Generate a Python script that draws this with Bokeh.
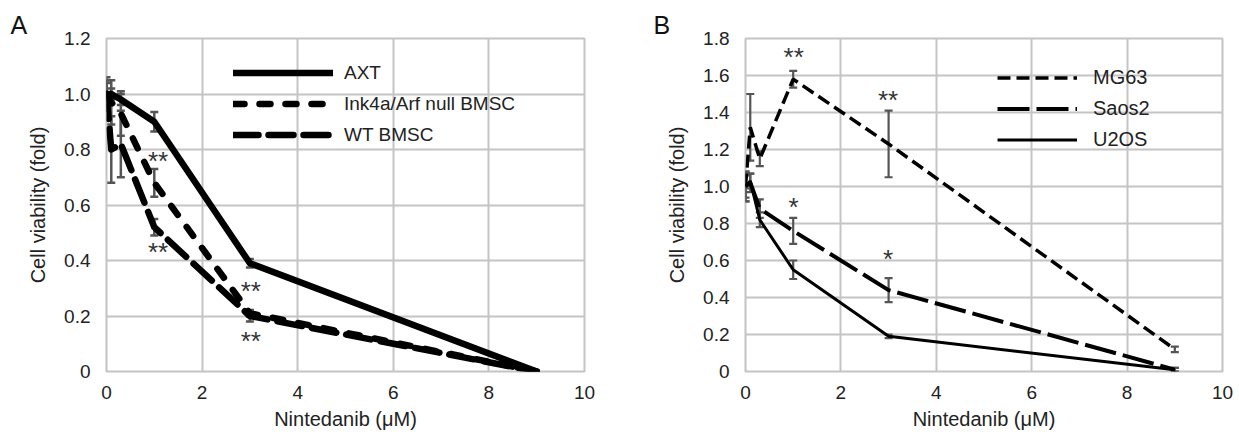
from bokeh.plotting import figure
from bokeh.layouts import row
from bokeh.models import (ColumnDataSource, Whisker, TeeHead, Legend, LegendItem,
                          FixedTicker, NumeralTickFormatter)
from bokeh.core.properties import value
from bokeh.embed import file_html
from bokeh.resources import INLINE

# ---------------- data ----------------
dose = [0, 0.1, 0.3, 1, 3, 9]

# Panel A
a_names = ["AXT", "Ink4a/Arf null BMSC", "WT BMSC"]
a_axt = [1.00, 1.00, 0.98, 0.90, 0.39, 0.00]
a_axt_err = [0.05, 0.02, 0.02, 0.035, 0.015, 0.0]
a_ink = [1.00, 0.97, 0.93, 0.68, 0.21, 0.00]
a_ink_err = [0.04, 0.08, 0.08, 0.05, 0.012, 0.0]
a_wt = [1.00, 0.80, 0.82, 0.52, 0.20, 0.00]
a_wt_err = [0.06, 0.12, 0.12, 0.03, 0.02, 0.0]
a_sig_x = [1.08, 1.08, 3.02, 3.02]
a_sig_y = [0.76, 0.43, 0.29, 0.11]
a_sig = ["**", "**", "**", "**"]

# Panel B
b_names = ["MG63", "Saos2", "U2OS"]
b_mg63 = [1.00, 1.32, 1.15, 1.58, 1.23, 0.12]
b_mg63_err = [0.08, 0.18, 0.04, 0.045, 0.18, 0.015]
b_saos = [1.00, 1.02, 0.88, 0.76, 0.44, 0.01]
b_saos_err = [0.08, 0.05, 0.05, 0.07, 0.065, 0.01]
b_u2os = [1.00, 1.03, 0.82, 0.55, 0.19, 0.01]
b_u2os_err = [0.06, 0.04, 0.04, 0.05, 0.01, 0.01]
b_sig_x = [1.01, 2.99, 1.01, 2.99]
b_sig_y = [1.70, 1.47, 0.89, 0.61]
b_sig = ["**", "**", "*", "*"]

x_ticks = [0, 2, 4, 6, 8, 10]
a_yticks = [0, 0.2, 0.4, 0.6, 0.8, 1.0, 1.2]
b_yticks = [0, 0.2, 0.4, 0.6, 0.8, 1.0, 1.2, 1.4, 1.6, 1.8]

FONT = "Liberation Sans"
GRID = "#c4c4c4"
ERR = "#555555"


def base_fig(width, height, ymax, yticks, bl, br, bt, bb, panel, title_offset):
    p = figure(width=width, height=height, x_range=(0, 10), y_range=(0, ymax),
               output_backend="svg", toolbar_location=None,
               min_border_left=bl, min_border_right=br, min_border_top=bt,
               min_border_bottom=bb, title=panel)
    p.title.text_font = FONT
    p.title.text_font_size = "25px"
    p.title.text_font_style = "normal"
    p.title.text_color = "#111111"
    p.title.align = "left"
    p.title.offset = title_offset
    p.title.standoff = 0
    p.background_fill_color = "white"
    p.border_fill_color = "white"
    p.outline_line_color = GRID
    p.outline_line_width = 2
    for g in (p.xgrid[0], p.ygrid[0]):
        g.grid_line_color = GRID
        g.grid_line_width = 2
    p.xaxis.ticker = FixedTicker(ticks=x_ticks)
    p.yaxis.ticker = FixedTicker(ticks=yticks)
    p.yaxis.formatter = NumeralTickFormatter(format="0.0")
    p.yaxis.major_label_overrides = {0: "0"}
    for ax in (p.xaxis[0], p.yaxis[0]):
        ax.axis_line_color = None
        ax.major_tick_line_color = None
        ax.minor_tick_line_color = None
        ax.major_label_text_font = FONT
        ax.major_label_text_font_size = "19px"
        ax.major_label_text_color = "#222222"
        ax.axis_label_text_font = FONT
        ax.axis_label_text_font_size = "20px"
        ax.axis_label_text_font_style = "normal"
        ax.axis_label_text_color = "#222222"
    p.xaxis.major_label_standoff = 8
    p.yaxis.major_label_standoff = 10
    p.xaxis.axis_label_standoff = 6
    p.yaxis.axis_label_standoff = 12
    p.xaxis.axis_label = "Nintedanib (μM)"
    p.yaxis.axis_label = "Cell viability (fold)"
    return p


def add_err(p, ys, errs, w):
    xs = [x for x, e in zip(dose, errs) if e > 0]
    up = [y + e for y, e in zip(ys, errs) if e > 0]
    lo = [y - e for y, e in zip(ys, errs) if e > 0]
    src = ColumnDataSource(dict(x=xs, upper=up, lower=lo))
    wk = Whisker(base="x", upper="upper", lower="lower", source=src,
                 line_color=ERR, line_width=w,
                 upper_head=TeeHead(size=8, line_color=ERR, line_width=w),
                 lower_head=TeeHead(size=8, line_color=ERR, line_width=w))
    p.add_layout(wk)


def add_stars(p, xs, ys, txt):
    src = ColumnDataSource(dict(x=xs, y=ys, t=txt))
    p.text(x="x", y="y", text="t", source=src, text_font=value(FONT),
           text_font_size="26px", text_align="center", text_baseline="alphabetic",
           text_color="#333333")


# ---------------- Panel A ----------------
pA = base_fig(620, 435, 1.2, a_yticks, 106, 36, 36, 64, "A", -96)
add_err(pA, a_axt, a_axt_err, 2.5)
add_err(pA, a_ink, a_ink_err, 2.5)
add_err(pA, a_wt, a_wt_err, 2.5)
rA1 = pA.line(dose, a_axt, line_color="black", line_width=6.5, line_cap="round", line_join="round")
rA2 = pA.line(dose, a_ink, line_color="black", line_width=6.5, line_dash="11 15",
              line_cap="round", line_join="round")
rA3 = pA.line(dose, a_wt, line_color="black", line_width=6.5, line_dash="25 10",
              line_cap="round", line_join="round")
add_stars(pA, a_sig_x, a_sig_y, a_sig)
legA = Legend(items=[LegendItem(label=a_names[0], renderers=[rA1]),
                     LegendItem(label=a_names[1], renderers=[rA2]),
                     LegendItem(label=a_names[2], renderers=[rA3])],
              location=(127, 225), glyph_width=100, glyph_height=23, label_height=23,
              spacing=8, padding=0, margin=0, label_standoff=11,
              label_text_font=FONT, label_text_font_size="19px", label_text_color="#222222",
              background_fill_alpha=0, border_line_color=None)
pA.add_layout(legA)

# ---------------- Panel B ----------------
pB = base_fig(619, 435, 1.8, b_yticks, 125, 17, 38, 63, "B", -92)
add_err(pB, b_mg63, b_mg63_err, 2.2)
add_err(pB, b_saos, b_saos_err, 2.2)
add_err(pB, b_u2os, b_u2os_err, 2.2)
rB1 = pB.line(dose, b_mg63, line_color="black", line_width=3.5, line_dash="13 6")
rB2 = pB.line(dose, b_saos, line_color="black", line_width=4, line_dash="32 7")
rB3 = pB.line(dose, b_u2os, line_color="black", line_width=3)
add_stars(pB, b_sig_x, b_sig_y, b_sig)
legB = Legend(items=[LegendItem(label=b_names[0], renderers=[rB1]),
                     LegendItem(label=b_names[1], renderers=[rB2]),
                     LegendItem(label=b_names[2], renderers=[rB3])],
              location=(252, 220), glyph_width=80, glyph_height=23, label_height=23,
              spacing=8, padding=0, margin=0, label_standoff=16,
              label_text_font=FONT, label_text_font_size="20px", label_text_color="#222222",
              background_fill_alpha=0, border_line_color=None)
pB.add_layout(legB)

layout = row(pA, pB)
open("out.html", "w").write(file_html(layout, INLINE))
